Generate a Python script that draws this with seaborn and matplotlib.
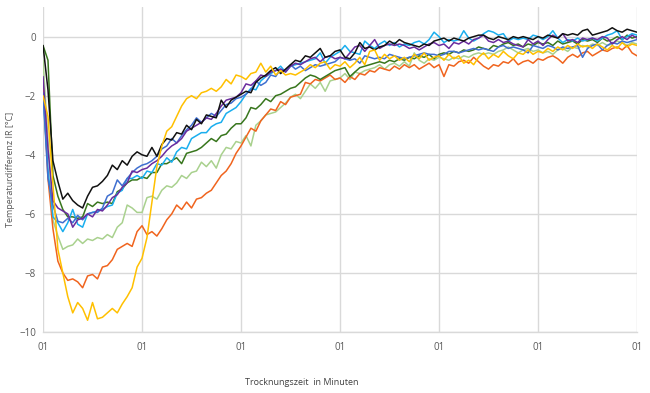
import numpy as np
import pandas as pd
import matplotlib
matplotlib.use("Agg")
import matplotlib.pyplot as plt
import seaborn as sns

# time axis: 121 samples across 6 grid intervals
time_steps = np.arange(121) * 0.05
tick_positions = [0, 1, 2, 3, 4, 5, 6]
tick_labels = ["01"] * 7
y_ticks = [-10, -8, -6, -4, -2, 0]

light_green = [
    -0.8, -3.5, -6.2, -6.75, -7.2, -7.1, -7.05, -6.85, -7.0, -6.85,
    -6.9, -6.8, -6.85, -6.7, -6.8, -6.45, -6.3, -5.7, -5.8, -5.95,
    -5.95, -5.45, -5.4, -5.5, -5.2, -5.05, -5.1, -4.95, -4.7, -4.8,
    -4.6, -4.55, -4.25, -4.4, -4.2, -4.45, -4.0, -3.75, -3.8, -3.55,
    -3.6, -3.35, -3.7, -3.0, -2.85, -2.65, -2.6, -2.55, -2.4, -2.25,
    -2.05, -1.95, -2.1, -1.85, -1.6, -1.75, -1.55, -1.85, -1.5, -1.45,
    -1.4, -1.25, -1.45, -1.2, -1.25, -1.15, -1.1, -1.05, -0.95, -1.1,
    -0.95, -0.9, -1.0, -0.85, -1.0, -0.55, -0.8, -0.9, -0.75, -0.8,
    -0.7, -0.75, -0.8, -0.7, -0.75, -0.65, -0.7, -0.6, -0.55, -0.6,
    -0.55, -0.6, -0.5, -0.45, -0.35, -0.45, -0.55, -0.45, -0.4, -0.5,
    -0.45, -0.55, -0.5, -0.6, -0.45, -0.4, -0.5, -0.35, -0.4, -0.3,
    -0.35, -0.25, -0.3, -0.2, -0.3, -0.25, -0.15, -0.2, -0.3, -0.2,
    -0.25]

orange = [
    -1.6, -4.8, -6.5, -7.6, -8.0, -8.25, -8.2, -8.3, -8.5, -8.1,
    -8.05, -8.2, -7.8, -7.75, -7.55, -7.2, -7.1, -7.0, -7.1, -6.6,
    -6.4, -6.7, -6.6, -6.75, -6.5, -6.2, -6.0, -5.7, -5.85, -5.6,
    -5.8, -5.5, -5.45, -5.3, -5.2, -4.95, -4.7, -4.55, -4.3, -3.95,
    -3.7, -3.4, -3.1, -3.2, -2.85, -2.65, -2.45, -2.5, -2.2, -2.3,
    -2.05, -2.0, -1.95, -1.55, -1.6, -1.45, -1.5, -1.4, -1.3, -1.45,
    -1.4, -1.55, -1.35, -1.45, -1.25, -1.3, -1.15, -1.2, -1.05, -1.1,
    -1.15, -1.0, -1.1, -0.95, -1.05, -0.95, -1.1, -1.0, -0.9, -1.05,
    -0.95, -1.35, -0.95, -1.0, -0.85, -0.8, -0.9, -0.7, -0.85, -1.0,
    -1.1, -0.95, -1.0, -0.85, -0.9, -0.75, -0.95, -0.85, -0.8, -0.9,
    -0.75, -0.8, -0.7, -0.65, -0.75, -0.9, -0.7, -0.6, -0.7, -0.55,
    -0.5, -0.65, -0.55, -0.45, -0.5, -0.4, -0.35, -0.45, -0.3, -0.55,
    -0.65]

dark_green = [
    -0.3, -0.8, -4.7, -5.4, -5.85, -6.1, -6.1, -6.15, -6.1, -5.65,
    -5.75, -5.6, -5.65, -5.6, -5.65, -5.25, -5.15, -4.95, -4.85, -4.85,
    -4.75, -4.8, -4.6, -4.6, -4.3, -4.3, -4.2, -4.1, -4.3, -3.95,
    -3.9, -3.85, -3.75, -3.6, -3.45, -3.55, -3.35, -3.3, -3.1, -2.95,
    -2.95, -2.75, -2.4, -2.45, -2.3, -2.1, -2.2, -2.0, -1.95, -1.85,
    -1.75, -1.7, -1.55, -1.4, -1.3, -1.35, -1.45, -1.35, -1.25, -1.15,
    -1.1, -1.05, -1.35, -1.2, -1.05, -1.0, -0.95, -0.9, -0.85, -0.9,
    -0.8, -0.85, -0.75, -0.8, -0.7, -0.75, -0.65, -0.7, -0.6, -0.75,
    -0.6, -0.55, -0.6, -0.5, -0.55, -0.45, -0.5, -0.45, -0.35, -0.4,
    -0.45, -0.3, -0.35, -0.25, -0.2, -0.3, -0.25, -0.35, -0.25, -0.3,
    -0.2, -0.25, -0.2, -0.3, -0.15, -0.25, -0.2, -0.15, -0.25, -0.1,
    -0.15, -0.1, -0.2, -0.05, -0.15, -0.1, 0.0, -0.1, 0.05, -0.05,
    0.0]

light_blue = [
    -1.9, -4.5, -6.1, -6.3, -6.6, -6.3, -5.85, -6.35, -6.45, -6.0,
    -5.95, -5.9, -5.85, -5.75, -5.7, -5.3, -5.2, -4.8, -4.8, -4.7,
    -4.8, -4.55, -4.6, -4.3, -4.35, -4.1, -4.25, -3.9, -3.75, -3.8,
    -3.45, -3.35, -3.25, -3.25, -3.05, -2.95, -2.9, -2.6, -2.5, -2.4,
    -2.2, -1.95, -1.75, -1.8, -1.5, -1.35, -1.25, -1.15, -1.0, -1.2,
    -1.0, -0.95, -0.9, -0.85, -0.8, -0.75, -0.55, -0.9, -0.7, -0.6,
    -0.5, -0.3, -0.5, -0.55, -0.6, -0.15, -0.3, -0.4, -0.25, -0.15,
    -0.3, -0.2, -0.35, -0.25, -0.3, -0.2, -0.15, -0.25, -0.1, 0.15,
    0.0, -0.2, -0.1, -0.15, -0.1, 0.2, -0.05, -0.15, -0.05, 0.1,
    0.2, 0.15, 0.05, 0.1, -0.15, -0.05, -0.1, -0.05, -0.1, 0.05,
    0.0, -0.1, 0.0, 0.2, -0.05, -0.2, -0.1, -0.15, -0.05, -0.15,
    -0.1, -0.05, -0.15, -0.05, 0.05, 0.1, 0.2, -0.1, 0.0, 0.1,
    0.05]

blue = [
    -1.9, -4.8, -5.7, -6.25, -6.3, -6.15, -6.3, -6.05, -6.2, -6.0,
    -5.95, -5.95, -5.8, -5.4, -5.3, -4.85, -5.05, -4.8, -4.6, -4.45,
    -4.35, -4.3, -4.2, -4.05, -3.8, -3.7, -3.45, -3.6, -3.35, -3.15,
    -3.0, -2.75, -2.9, -2.75, -2.6, -2.7, -2.5, -2.3, -2.25, -2.1,
    -2.05, -1.95, -1.8, -1.5, -1.65, -1.55, -1.3, -1.35, -1.1, -1.15,
    -0.95, -1.1, -1.0, -1.15, -1.05, -0.95, -1.0, -0.95, -0.9, -0.85,
    -0.7, -0.75, -0.8, -0.75, -0.9, -0.65, -0.7, -0.75, -0.7, -0.75,
    -0.6, -0.65, -0.7, -0.75, -0.7, -0.65, -0.6, -0.55, -0.6, -0.6,
    -0.65, -0.6, -0.5, -0.5, -0.55, -0.5, -0.45, -0.4, -0.45, -0.4,
    -0.45, -0.5, -0.35, -0.3, -0.4, -0.35, -0.4, -0.45, -0.55, -0.3,
    -0.35, -0.4, -0.3, -0.35, -0.45, -0.35, -0.4, -0.35, -0.3, -0.7,
    -0.4, -0.3, -0.25, -0.45, -0.3, -0.2, -0.25, -0.15, -0.2, -0.15,
    -0.1]

purple = [
    -1.35, -3.8, -5.55, -5.8, -5.9, -6.0, -6.45, -6.2, -6.15, -6.0,
    -6.1, -5.85, -5.9, -5.7, -5.45, -5.35, -5.1, -4.95, -4.55, -4.6,
    -4.5, -4.45, -4.3, -4.2, -4.05, -3.85, -3.7, -3.6, -3.45, -3.2,
    -3.1, -3.0, -2.9, -2.75, -2.8, -2.6, -2.35, -2.15, -2.1, -2.05,
    -1.9, -1.6, -1.65, -1.5, -1.3, -1.35, -1.2, -1.15, -1.1, -1.2,
    -1.0, -0.9, -0.95, -0.85, -0.75, -0.7, -0.85, -0.7, -0.65, -0.75,
    -0.7, -0.75, -0.55, -0.35, -0.3, -0.5, -0.3, -0.1, -0.4, -0.3,
    -0.25, -0.3, -0.25, -0.3, -0.4, -0.35, -0.45, -0.35, -0.25, -0.2,
    -0.3, -0.25, -0.4, -0.2, -0.25, -0.15, -0.25, -0.1, -0.05, 0.05,
    -0.15, -0.2, -0.1, -0.2, -0.15, -0.25, -0.3, -0.35, -0.1, -0.25,
    -0.15, -0.3, -0.1, 0.05, -0.05, 0.1, -0.15, -0.1, -0.2, -0.05,
    -0.1, -0.05, -0.1, 0.0, -0.05, -0.25, -0.1, 0.0, -0.1, 0.05,
    -0.05]

black = [
    -0.3, -1.8, -4.2, -4.9, -5.5, -5.3, -5.55, -5.7, -5.8, -5.4,
    -5.1, -5.05, -4.9, -4.7, -4.35, -4.5, -4.2, -4.35, -4.05, -3.9,
    -4.0, -4.05, -3.75, -4.05, -3.65, -3.45, -3.5, -3.25, -3.3, -3.0,
    -3.15, -2.8, -2.95, -2.65, -2.7, -2.75, -2.15, -2.4, -2.15, -2.05,
    -1.95, -1.85, -1.9, -1.55, -1.4, -1.3, -1.15, -1.05, -1.25, -1.1,
    -0.95, -0.8, -0.85, -0.65, -0.7, -0.55, -0.4, -0.7, -0.65, -0.5,
    -0.45, -0.7, -0.75, -0.55, -0.2, -0.4, -0.35, -0.45, -0.35, -0.3,
    -0.15, -0.25, -0.1, -0.2, -0.25, -0.3, -0.35, -0.25, -0.3, -0.15,
    -0.1, -0.05, -0.15, -0.05, -0.1, -0.15, -0.05, 0.0, 0.05, 0.05,
    -0.05, -0.1, 0.0, -0.05, -0.1, 0.0, -0.05, 0.0, -0.05, -0.1,
    0.0, -0.05, 0.05, 0.0, -0.05, 0.1, 0.05, 0.1, 0.05, 0.2,
    0.25, 0.05, 0.1, 0.15, 0.2, 0.3, 0.2, 0.15, 0.25, 0.2,
    0.15]

yellow = [
    -2.0, -2.7, -5.0, -7.2, -8.0, -8.8, -9.35, -9.0, -9.2, -9.6,
    -9.0, -9.55, -9.5, -9.35, -9.2, -9.35, -9.05, -8.8, -8.5, -7.8,
    -7.5, -6.8, -5.6, -4.4, -3.7, -3.2, -3.05, -2.7, -2.35, -2.1,
    -2.0, -2.1, -1.9, -1.85, -1.75, -1.85, -1.7, -1.45, -1.6, -1.3,
    -1.35, -1.45, -1.25, -1.2, -0.9, -1.2, -1.0, -1.3, -1.15, -1.3,
    -1.25, -1.3, -1.2, -1.1, -0.95, -1.05, -0.9, -0.85, -1.1, -0.95,
    -1.0, -0.85, -1.05, -0.9, -0.7, -0.95, -0.5, -0.45, -0.8, -0.6,
    -0.75, -0.65, -0.8, -0.7, -0.85, -0.6, -0.75, -0.55, -0.8, -0.7,
    -0.65, -0.8, -0.6, -0.75, -0.65, -0.9, -0.8, -0.95, -0.7, -0.55,
    -0.75, -0.6, -0.7, -0.5, -0.65, -0.75, -0.55, -0.6, -0.45, -0.6,
    -0.5, -0.55, -0.4, -0.5, -0.35, -0.45, -0.3, -0.4, -0.25, -0.35,
    -0.3, -0.4, -0.25, -0.35, -0.45, -0.3, -0.4, -0.2, -0.35, -0.25,
    -0.3]

series = {
    "Probe 1": light_green,
    "Probe 2": orange,
    "Probe 3": dark_green,
    "Probe 4": light_blue,
    "Probe 5": blue,
    "Probe 6": purple,
    "Probe 7": black,
    "Probe 8": yellow,
}
colors = ["#A9D18E", "#F0641E", "#38761D", "#1AAEEE",
          "#3F6FD0", "#6A2C9E", "#111111", "#FFC000"]

df = pd.concat(
    [pd.DataFrame({"t": time_steps, "dT": vals, "probe": name})
     for name, vals in series.items()],
    ignore_index=True)

sns.set_style("white")
plt.rcParams["font.family"] = ["Open Sans", "DejaVu Sans"]

fig = plt.figure(figsize=(6.5, 3.93), dpi=100)
ax = fig.add_axes([0.0662, 0.155, 0.9138, 0.827])

sns.lineplot(data=df, x="t", y="dT", hue="probe", palette=colors,
             estimator=None, linewidth=1.1, legend=False, ax=ax, zorder=3)

ax.set_xlim(0, 6)
ax.set_ylim(-10, 1)
ax.set_xticks(tick_positions)
ax.set_xticklabels(tick_labels)
ax.set_yticks(y_ticks)
ax.grid(True, color="#D9D9D9", linewidth=1.0, zorder=0)
ax.set_axisbelow(True)

for side in ["top", "right", "left"]:
    ax.spines[side].set_visible(False)
ax.spines["bottom"].set_color("#D9D9D9")
ax.spines["bottom"].set_linewidth(1.0)

ax.tick_params(axis="both", length=0, labelsize=7, colors="#595959")
ax.tick_params(axis="x", pad=7)
ax.tick_params(axis="y", pad=5)

ax.set_ylabel("Temperaturdifferenz IR [°C]", fontsize=6.5, color="#595959")
ax.yaxis.set_label_coords(-0.047, 0.5)
ax.set_xlabel("Trocknungszeit  in Minuten", fontsize=6.5, color="#404040")
ax.xaxis.set_label_coords(0.436, -0.14)

fig.savefig("out.png", dpi=100)
